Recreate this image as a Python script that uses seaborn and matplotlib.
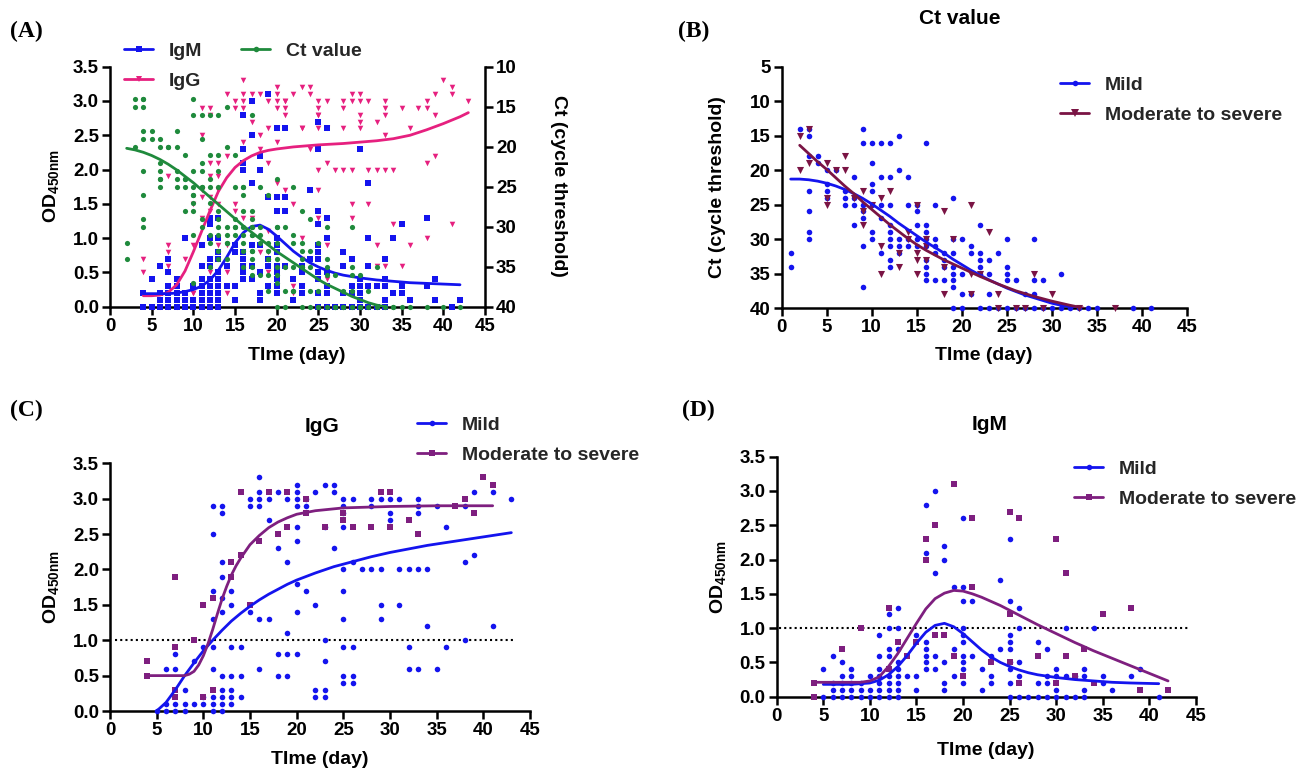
import matplotlib
matplotlib.use("Agg")
import matplotlib.pyplot as plt
import pandas as pd
import seaborn as sns
from matplotlib.lines import Line2D
from matplotlib.ticker import MultipleLocator, FormatStrFormatter

# ---------------------------------------------------------------- data
# Individual measurements, grouped by sampling day.

# (B) Ct value by severity
ct_mild = {
    1: [32, 34], 2: [14], 3: [14, 15, 18, 23, 26, 29, 30], 4: [18, 19],
    5: [20, 22, 23, 24], 6: [20], 7: [23, 24, 25], 8: [21, 24, 25, 28],
    9: [14, 16, 25, 26, 27, 31, 37], 10: [16, 19, 22, 23, 25, 29, 30],
    11: [16, 21, 25, 27, 32], 12: [16, 21, 25, 28, 29, 30, 31, 33, 34],
    13: [15, 20, 30, 31, 32], 14: [21, 25, 30, 31], 15: [25, 26, 28, 30, 31],
    16: [16, 28, 29, 30, 31, 33, 34, 35, 36], 17: [25, 30, 31, 32, 36],
    18: [32, 33, 34, 36], 19: [24, 30, 32, 34, 35, 36, 37, 40],
    20: [30, 35, 38, 40], 21: [31, 32, 38], 22: [28, 32, 33, 34, 35, 40],
    23: [33, 35, 38, 40], 24: [32, 40], 25: [30, 34, 35, 36, 40],
    26: [36, 40], 27: [38, 40], 28: [30, 36, 38, 40], 29: [36, 40],
    30: [40], 31: [35, 40], 32: [40], 33: [40], 34: [40], 35: [40],
    39: [40], 41: [40],
}
ct_severe = {
    2: [15, 20], 3: [14, 19], 5: [19, 24, 25], 6: [20], 7: [18, 20],
    8: [24], 9: [23, 26, 28], 10: [25], 11: [24, 31, 35], 12: [23],
    13: [32, 34], 14: [29, 30], 15: [25, 32, 33, 35], 16: [30, 31, 33],
    18: [26, 34, 38], 19: [30], 21: [25, 35, 38], 22: [35], 23: [29],
    24: [38, 40], 26: [40], 27: [40], 28: [35], 29: [40], 30: [38],
    33: [40], 37: [40],
}

# (C) IgG OD450nm by severity
igg_mild = {
    5: [0.0], 6: [0.6, 0.1, 0.0], 7: [0.8, 0.6, 0.1, 0.0], 8: [0.3, 0.1, 0.0],
    9: [0.7, 0.1], 10: [0.9, 0.2, 0.1],
    11: [2.9, 2.5, 1.7, 1.3, 0.9, 0.6, 0.2, 0.1, 0.0],
    12: [2.9, 2.8, 2.1, 1.9, 1.6, 1.4, 0.5, 0.3, 0.2, 0.1, 0.0],
    13: [1.7, 1.5, 0.9, 0.5, 0.3, 0.2, 0.1], 14: [0.9, 0.5, 0.2],
    15: [3.0, 2.9, 1.4], 16: [3.3, 3.1, 3.0, 2.9, 1.3, 0.6],
    17: [3.0, 2.7, 1.3], 18: [3.1, 2.3, 0.8, 0.5], 19: [3.0, 2.1, 1.1, 0.8, 0.5],
    20: [3.2, 3.1, 3.0, 2.9, 2.6, 2.4, 1.8, 1.4, 0.8], 21: [3.0, 2.9, 1.7],
    22: [3.1, 1.5, 0.3, 0.2], 23: [3.2, 2.6, 1.0, 0.7, 0.3, 0.2],
    24: [3.2, 3.1, 2.3], 25: [3.0, 2.9, 2.8, 2.6, 2.0, 1.7, 1.3, 0.9, 0.5, 0.4],
    26: [3.0, 2.1, 0.9, 0.5, 0.4], 27: [2.0], 28: [3.0, 2.9, 2.0],
    29: [3.0, 2.0, 1.5, 1.3], 30: [3.0, 2.8, 2.7], 31: [3.0, 2.0, 1.5],
    32: [2.0, 0.9, 0.6], 33: [3.0, 2.9, 2.8, 2.0, 0.6], 34: [2.0, 1.2],
    35: [2.9, 0.6], 36: [2.6, 0.9], 38: [2.9, 2.1, 1.0], 39: [3.1, 2.2],
    41: [3.1, 1.2], 43: [3.0],
}
igg_severe = {
    4: [0.7, 0.5], 7: [1.9, 0.9, 0.3, 0.2], 9: [1.0], 10: [1.5, 0.2],
    11: [1.6, 0.3], 13: [2.1, 1.9], 14: [3.1, 2.2], 15: [1.5], 16: [2.4],
    17: [3.1], 18: [2.5], 19: [3.1, 2.6], 21: [3.0, 2.8], 23: [2.6],
    25: [2.8, 2.7], 26: [2.6], 28: [2.6], 29: [3.1], 30: [3.1, 2.6],
    32: [2.7], 33: [2.5], 37: [2.9], 38: [3.0], 39: [2.8], 40: [3.3], 41: [3.2],
}

# (D) IgM OD450nm by severity
igm_mild = {
    5: [0.4, 0.0], 6: [0.6, 0.2, 0.1, 0.0], 7: [0.5, 0.3, 0.2, 0.1, 0.0],
    8: [0.4, 0.3, 0.2, 0.1, 0.0], 9: [0.2, 0.1, 0.0], 10: [0.3, 0.1, 0.0],
    11: [0.9, 0.6, 0.4, 0.3, 0.2, 0.1, 0.0],
    12: [1.2, 1.0, 0.7, 0.6, 0.4, 0.3, 0.2, 0.1, 0.0],
    13: [1.3, 1.0, 0.7, 0.5, 0.4, 0.3, 0.2, 0.1, 0.0], 14: [0.3],
    15: [0.9, 0.3, 0.1], 16: [2.8, 2.1, 0.8, 0.7, 0.6, 0.5, 0.4],
    17: [3.0, 1.8, 0.6, 0.4], 18: [2.2, 2.0, 0.5, 0.2, 0.1], 19: [1.6, 0.7, 0.3],
    20: [2.6, 1.6, 1.4, 1.0, 0.9, 0.8, 0.6, 0.5, 0.4, 0.2], 21: [1.4, 0.6],
    22: [0.4, 0.1], 23: [0.6, 0.3, 0.2], 24: [1.7, 0.7],
    25: [2.3, 1.4, 0.9, 0.8, 0.7, 0.5, 0.4, 0.2, 0.0],
    26: [1.3, 1.0, 0.5, 0.3, 0.0], 27: [0.0], 28: [0.8, 0.2, 0.0],
    29: [0.7, 0.3, 0.2, 0.0], 30: [0.4, 0.3, 0.1, 0.0], 31: [1.0, 0.3, 0.0],
    32: [0.3, 0.0], 33: [0.4, 0.3, 0.1, 0.0], 34: [1.0], 35: [0.3, 0.2],
    36: [0.1], 38: [0.3], 39: [0.4], 41: [0.0],
}
igm_severe = {
    4: [0.2, 0.0], 7: [0.7], 9: [1.0], 12: [1.3, 0.4], 13: [0.8], 14: [0.6],
    15: [0.8], 16: [2.3, 2.0], 17: [2.5, 0.9], 18: [0.9], 19: [3.1, 0.6],
    20: [0.3], 21: [2.6, 1.6], 23: [0.5], 25: [2.7, 1.2, 0.5], 26: [2.6, 0.2],
    28: [0.6], 30: [2.3, 0.2], 31: [1.8, 0.6], 32: [0.3], 33: [0.7],
    34: [0.2], 35: [1.2], 38: [1.3], 39: [0.1], 42: [0.1],
}

# Fitted trend curves (day -> fitted value)
fit_ct_all = {2: 20.2, 3: 20.4, 4: 20.7, 5: 21.1, 6: 21.6, 7: 22.2, 8: 22.9,
              9: 23.7, 10: 24.5, 11: 25.4, 12: 26.3, 13: 27.2, 14: 28.1,
              15: 29.0, 16: 29.9, 17: 30.7, 18: 31.5, 19: 32.3, 20: 33.1,
              21: 33.8, 22: 34.5, 23: 35.2, 24: 35.9, 25: 36.6, 26: 37.2,
              27: 37.7, 28: 38.2, 29: 38.7, 30: 39.1, 31: 39.5, 32: 39.8, 33: 40.0}
fit_igg_all = {4: 0.16, 5: 0.16, 6: 0.17, 7: 0.21, 8: 0.32, 9: 0.52, 10: 0.80,
               11: 1.10, 12: 1.40, 13: 1.68, 14: 1.88, 15: 2.03, 16: 2.13,
               17: 2.20, 18: 2.25, 19: 2.28, 20: 2.30, 22: 2.33, 25: 2.36,
               28: 2.38, 30: 2.40, 32: 2.42, 34: 2.45, 36: 2.50, 38: 2.58,
               40: 2.67, 42: 2.77, 43: 2.83}
fit_igm_all = {4: 0.19, 5: 0.19, 6: 0.19, 7: 0.19, 8: 0.20, 9: 0.22, 10: 0.25,
               11: 0.30, 12: 0.39, 13: 0.53, 14: 0.72, 15: 0.93, 16: 1.08,
               17: 1.17, 18: 1.19, 19: 1.13, 20: 1.03, 21: 0.92, 22: 0.81,
               23: 0.72, 24: 0.64, 25: 0.58, 26: 0.53, 27: 0.49, 28: 0.46,
               30: 0.42, 32: 0.39, 34: 0.37, 36: 0.35, 38: 0.34, 40: 0.33, 42: 0.32}
fit_ct_mild = {1: 21.3, 2: 21.3, 3: 21.4, 4: 21.6, 5: 21.9, 6: 22.3, 7: 22.8,
               8: 23.4, 9: 24.1, 10: 24.9, 11: 25.8, 12: 26.7, 13: 27.7,
               14: 28.6, 15: 29.5, 16: 30.4, 17: 31.2, 18: 32.0, 19: 32.9,
               20: 33.7, 21: 34.5, 22: 35.2, 23: 35.9, 24: 36.5, 25: 37.1,
               26: 37.6, 27: 38.1, 28: 38.5, 29: 38.9, 30: 39.3, 31: 39.6,
               32: 39.8, 33: 40.0}
fit_ct_severe = {2: 16.4, 3: 17.6, 4: 18.8, 5: 19.9, 6: 21.1, 7: 22.3, 8: 23.4,
                 9: 24.6, 10: 25.7, 11: 26.8, 12: 27.9, 13: 28.9, 14: 29.9,
                 15: 30.8, 16: 31.6, 17: 32.3, 18: 33.0, 19: 33.6, 20: 34.2,
                 22: 35.4, 24: 36.5, 26: 37.5, 28: 38.3, 30: 39.0, 32: 39.6,
                 33.5: 40.0}
fit_igg_mild = {5: 0.0, 6: 0.12, 7: 0.30, 8: 0.50, 9: 0.68, 10: 0.85, 11: 1.00,
                12: 1.14, 13: 1.27, 14: 1.38, 15: 1.48, 16: 1.57, 17: 1.65,
                18: 1.72, 19: 1.79, 20: 1.85, 22: 1.95, 24: 2.04, 26: 2.11,
                28: 2.18, 30: 2.24, 32: 2.29, 34: 2.34, 36: 2.38, 38: 2.42,
                40: 2.46, 43: 2.52}
fit_igg_severe = {4: 0.50, 5: 0.50, 6: 0.50, 7: 0.50, 8: 0.50, 8.5: 0.52,
                  9: 0.56, 9.5: 0.65, 10: 0.78, 10.5: 0.95, 11: 1.15, 11.5: 1.37,
                  12: 1.58, 12.5: 1.76, 13: 1.92, 13.5: 2.05, 14: 2.16, 15: 2.35,
                  16: 2.48, 17: 2.59, 18: 2.67, 19: 2.73, 20: 2.78, 22: 2.83,
                  25: 2.87, 30: 2.89, 35: 2.90, 41: 2.90}
fit_igm_mild = {5: 0.18, 6: 0.18, 7: 0.18, 8: 0.18, 9: 0.19, 10: 0.20, 11: 0.24,
                12: 0.32, 13: 0.44, 14: 0.60, 15: 0.78, 16: 0.94, 17: 1.04,
                18: 1.07, 19: 1.02, 20: 0.92, 21: 0.80, 22: 0.68, 23: 0.58,
                24: 0.50, 25: 0.44, 26: 0.39, 27: 0.35, 28: 0.32, 30: 0.28,
                32: 0.25, 34: 0.23, 36: 0.21, 38: 0.20, 41: 0.19}
fit_igm_severe = {4: 0.21, 6: 0.21, 8: 0.21, 9: 0.21, 10: 0.23, 11: 0.29,
                  12: 0.44, 13: 0.63, 14: 0.85, 15: 1.07, 16: 1.28, 17: 1.43,
                  18: 1.51, 19: 1.55, 20: 1.54, 21: 1.50, 22: 1.45, 24: 1.33,
                  26: 1.19, 28: 1.05, 30: 0.92, 32: 0.79, 34: 0.67, 36: 0.56,
                  38: 0.45, 40: 0.34, 42: 0.23}

od_cutoff = 1.0
ct_day_shift = 1          # panel A counts Ct sampling days from day 1

# ---------------------------------------------------------------- style
BLUE = "#1414EE"
PINK = "#E6207F"
GREEN = "#1F8A3C"
MAROON = "#7A1444"
PURPLE = "#7E1F7F"

sns.set_theme(style="ticks")
SANS = ["Liberation Sans Narrow", "DejaVu Sans Condensed", "Liberation Sans",
        "DejaVu Sans"]
SERIF = ["Liberation Serif", "DejaVu Serif"]
plt.rcParams["font.family"] = SANS
plt.rcParams["font.weight"] = "bold"
plt.rcParams["axes.labelweight"] = "bold"
plt.rcParams["mathtext.default"] = "regular"

TICK_FS = 13.5
LABEL_FS = 14
LEGEND_FS = 14
TITLE_FS = 15

W, H = 1298, 775
fig = plt.figure(figsize=(W / 100, H / 100), dpi=100)


def rect(l, t, r, b):
    return [l / W, 1 - b / H, (r - l) / W, (b - t) / H]


def fpos(x, y):
    return (x / W, 1 - y / H)


def frame(groups, shift=0):
    days, vals = [], []
    for d, vs in groups.items():
        days += [d + shift] * len(vs)
        vals += list(vs)
    return pd.DataFrame({"day": days, "value": vals})


def fit_frame(points):
    return pd.DataFrame({"day": list(points), "value": list(points.values())})


def scatter(ax, df, color, marker, size):
    sns.scatterplot(data=df, x="day", y="value", color=color, marker=marker,
                    s=size, linewidth=0, ax=ax, legend=False, clip_on=False,
                    zorder=3)


def curve(ax, points, color):
    sns.lineplot(data=fit_frame(points), x="day", y="value", color=color,
                 lw=2.0, ax=ax, legend=False, estimator=None, sort=True,
                 zorder=4, solid_joinstyle="round")


def style_axes(ax, ylim, ystep, yfmt):
    ax.set_xlim(0, 45)
    ax.set_ylim(*ylim)
    ax.xaxis.set_major_locator(MultipleLocator(5))
    ax.yaxis.set_major_locator(MultipleLocator(ystep))
    ax.yaxis.set_major_formatter(FormatStrFormatter(yfmt))
    for side in ("top", "right"):
        ax.spines[side].set_visible(False)
    for side in ("left", "bottom"):
        ax.spines[side].set_linewidth(1.8)
        ax.spines[side].set_color("black")
    ax.tick_params(direction="out", length=6, width=1.8, color="black",
                   labelcolor="black", labelsize=TICK_FS, pad=2)
    ax.set_xlabel("TIme (day)", fontsize=LABEL_FS, color="black")


def handle(color, marker, ms):
    return Line2D([], [], color=color, lw=2, marker=marker, markersize=ms,
                  markeredgewidth=0)


def legend(ax, handles, labels, x, y, **kw):
    ax.legend(handles, labels, loc="upper left", bbox_to_anchor=fpos(x, y),
              bbox_transform=fig.transFigure, frameon=False, borderpad=0,
              borderaxespad=0, handlelength=1.5, handletextpad=0.8,
              labelspacing=0.65, prop={"family": SANS, "weight": "bold",
                                       "size": LEGEND_FS}, **kw)


def panel_tag(text, x, y):
    fig.text(*fpos(x, y), text, family=SERIF, weight="bold", fontsize=17,
             ha="left", va="center", color="black")


def place_labels(ax, ylab_x, ylab_y, xlab_x, xlab_y):
    ax.yaxis.set_label_coords(*fpos(ylab_x, ylab_y), transform=fig.transFigure)
    ax.xaxis.set_label_coords(*fpos(xlab_x, xlab_y), transform=fig.transFigure)


OD_LABEL = "OD$_{450nm}$"
CT_LABEL = "Ct (cycle threshold)"

# ---------------------------------------------------------------- (A)
axA = fig.add_axes(rect(110, 66.7, 485, 306.7))
style_axes(axA, (0, 3.5), 0.5, "%.1f")
scatter(axA, pd.concat([frame(igg_mild), frame(igg_severe)]), PINK, "v", 16)
scatter(axA, pd.concat([frame(igm_mild), frame(igm_severe)]), BLUE, "s", 14)
curve(axA, fit_igg_all, PINK)
curve(axA, fit_igm_all, BLUE)
axA.set_ylabel(OD_LABEL, fontsize=LABEL_FS, color="black")
place_labels(axA, 61, 186, 297, 347)

axA2 = axA.twinx()
axA2.set_ylim(40, 10)
axA2.yaxis.set_major_locator(MultipleLocator(5))
for side in ("top", "left", "bottom"):
    axA2.spines[side].set_visible(False)
axA2.spines["right"].set_linewidth(1.8)
axA2.spines["right"].set_color("black")
axA2.tick_params(direction="out", length=6, width=1.8, color="black",
                 labelcolor="black", labelsize=TICK_FS, pad=2)
scatter(axA2, pd.concat([frame(ct_mild, ct_day_shift),
                         frame(ct_severe, ct_day_shift)]), GREEN, "o", 14)
curve(axA2, fit_ct_all, GREEN)
axA2.set_xlim(0, 45)
axA2.set_ylabel(CT_LABEL, fontsize=LABEL_FS, rotation=270, color="black")
axA2.yaxis.set_label_coords(*fpos(567, 186), transform=fig.transFigure)
legend(axA2, [handle(BLUE, "s", 4), handle(PINK, "v", 4), handle(GREEN, "o", 4)],
       ["IgM", "IgG", "Ct value"], 124, 42, ncol=2, columnspacing=2.0)
panel_tag("(A)", 10, 31)

# ---------------------------------------------------------------- (B)
axB = fig.add_axes(rect(781.7, 66.7, 1186.7, 308))
style_axes(axB, (40, 5), 5, "%d")
scatter(axB, frame(ct_mild), BLUE, "o", 16)
scatter(axB, frame(ct_severe), MAROON, "v", 26)
curve(axB, fit_ct_mild, BLUE)
curve(axB, fit_ct_severe, MAROON)
axB.set_ylabel(CT_LABEL, fontsize=LABEL_FS, color="black")
place_labels(axB, 726, 187, 984, 347)
fig.text(*fpos(960, 19), "Ct value", ha="center", va="center",
         fontsize=TITLE_FS, weight="bold", color="black")
legend(axB, [handle(BLUE, "o", 4), handle(MAROON, "v", 6)],
       ["Mild", "Moderate to severe"], 1060, 76)
panel_tag("(B)", 678, 31)

# ---------------------------------------------------------------- (C)
axC = fig.add_axes(rect(110, 463.3, 530, 711))
style_axes(axC, (0, 3.5), 0.5, "%.1f")
axC.axhline(od_cutoff, xmin=0.5 / 45, xmax=43.3 / 45, color="black", lw=1.5,
            ls=(0, (1, 1.5)), zorder=2)
scatter(axC, frame(igg_mild), BLUE, "o", 16)
scatter(axC, frame(igg_severe), PURPLE, "s", 16)
curve(axC, fit_igg_mild, BLUE)
curve(axC, fit_igg_severe, PURPLE)
axC.set_ylabel(OD_LABEL, fontsize=LABEL_FS, color="black")
place_labels(axC, 61, 587, 320, 751)
fig.text(*fpos(322, 426), "IgG", ha="center", va="center",
         fontsize=TITLE_FS, weight="bold", color="black")
legend(axC, [handle(BLUE, "o", 4), handle(PURPLE, "s", 4)],
       ["Mild", "Moderate to severe"], 417, 416)
panel_tag("(C)", 10, 410)

# ---------------------------------------------------------------- (D)
axD = fig.add_axes(rect(776.7, 456.7, 1196, 696.7))
style_axes(axD, (0, 3.5), 0.5, "%.1f")
axD.axhline(od_cutoff, xmin=0.3 / 45, xmax=44.1 / 45, color="black", lw=1.5,
            ls=(0, (1, 1.5)), zorder=2)
scatter(axD, frame(igm_mild), BLUE, "o", 16)
scatter(axD, frame(igm_severe), PURPLE, "s", 16)
curve(axD, fit_igm_mild, BLUE)
curve(axD, fit_igm_severe, PURPLE)
axD.set_ylabel(OD_LABEL, fontsize=LABEL_FS, color="black")
place_labels(axD, 728, 577, 986, 742)
fig.text(*fpos(990, 425), "IgM", ha="center", va="center",
         fontsize=TITLE_FS, weight="bold", color="black")
legend(axD, [handle(BLUE, "o", 4), handle(PURPLE, "s", 4)],
       ["Mild", "Moderate to severe"], 1074, 460)
panel_tag("(D)", 682, 410)

fig.savefig("out.png", dpi=100, facecolor="white")
